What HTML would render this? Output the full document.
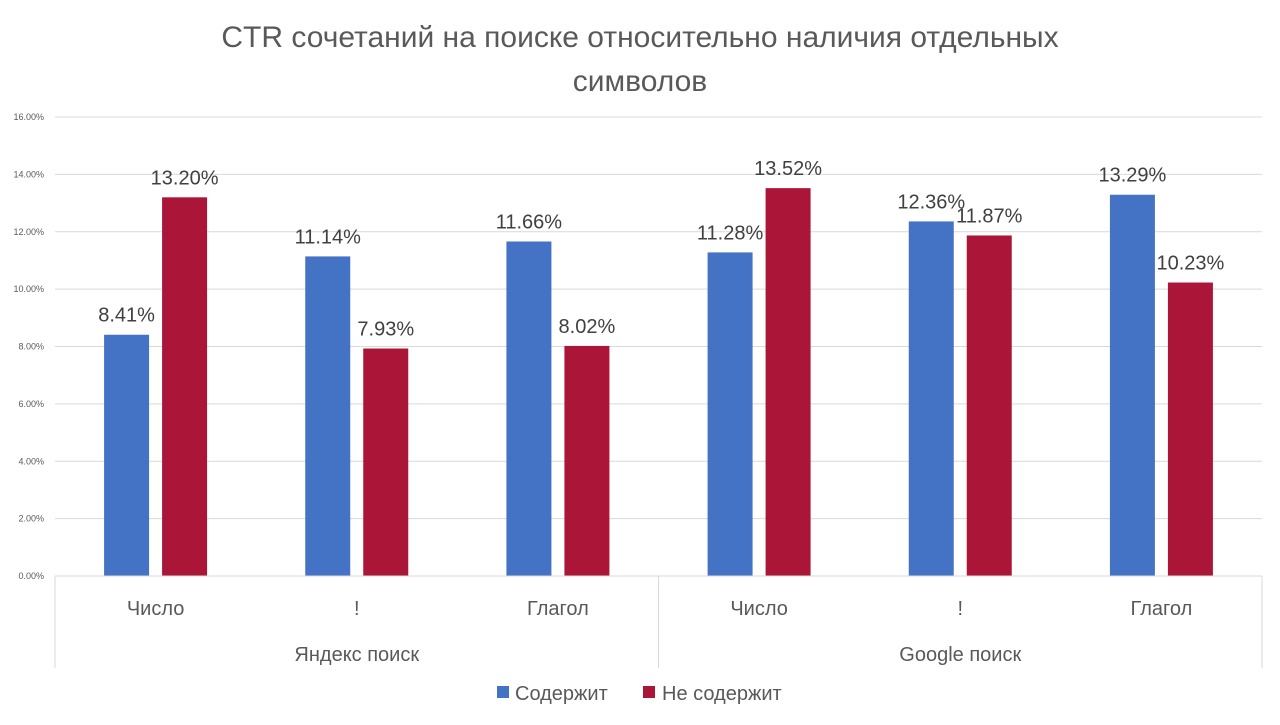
<!DOCTYPE html>
<html><head><meta charset="utf-8"><style>
body{margin:0;background:#fff;font-family:"Liberation Sans","DejaVu Sans",sans-serif;}
svg text{font-family:"Liberation Sans","DejaVu Sans",sans-serif;}
</style></head><body>
<svg id="chart" width="1280" height="720">
<text x="640" y="47" text-anchor="middle" font-size="30" fill="#595959">CTR сочетаний на поиске относительно наличия отдельных</text>
<text x="640" y="91" text-anchor="middle" font-size="30" fill="#595959">символов</text>
<g id="grid"></g><g id="bars"></g><g id="axis"></g>
<g>
<rect x="497" y="686" width="12" height="12" fill="#4472c4"/>
<text x="515" y="700" font-size="20" fill="#595959">Содержит</text>
<rect x="643" y="686" width="12" height="12" fill="#ab1538"/>
<text x="662" y="700" font-size="20" fill="#595959">Не содержит</text>
</g>
</svg>
<script>
const categories=["Число","!","Глагол","Число","!","Глагол"];
const groups=["Яндекс поиск","Google поиск"];
const containsValues=[8.41,11.14,11.66,11.28,12.36,13.29];
const notContainsValues=[13.20,7.93,8.02,13.52,11.87,10.23];
const yTicks=[0,2,4,6,8,10,12,14,16];
const NS="http://www.w3.org/2000/svg";
const L=55,R=1262,T=117,B=576,maxV=16;
const y=v=>B-(v/maxV)*(B-T);
const cw=(R-L)/categories.length;
const cx=i=>L+cw*(i+0.5);
function mk(tag,attrs,parent,txt){const e=document.createElementNS(NS,tag);for(const k in attrs)e.setAttribute(k,attrs[k]);if(txt!==undefined)e.textContent=txt;document.getElementById(parent).appendChild(e);return e;}
yTicks.forEach(t=>{
 const l=mk('line',{x1:L,x2:R,y1:y(t),y2:y(t),stroke:'#d9d9d9','stroke-width':1},'grid');
 
 
 const tx=mk('text',{x:44,y:y(t)+3,'text-anchor':'end','font-size':9,fill:'#595959'},'grid',t.toFixed(2)+'%');
 
 
});
categories.forEach((c,i)=>{
 const c0=cx(i);
 const b1=mk('rect',{x:c0-51.5,y:y(containsValues[i]),width:45,height:B-y(containsValues[i]),fill:'#4472c4'},'bars');
 
 
 const b2=mk('rect',{x:c0+6.5,y:y(notContainsValues[i]),width:45,height:B-y(notContainsValues[i]),fill:'#ab1538'},'bars');
 
 
 const l1=mk('text',{x:c0-29,y:y(containsValues[i])-13,'text-anchor':'middle','font-size':20,fill:'#404040'},'bars',containsValues[i].toFixed(2)+'%');
 
 
 const l2=mk('text',{x:c0+29,y:y(notContainsValues[i])-13,'text-anchor':'middle','font-size':20,fill:'#404040'},'bars',notContainsValues[i].toFixed(2)+'%');
 
 
 const cl=mk('text',{x:c0,y:615,'text-anchor':'middle','font-size':20,fill:'#595959'},'axis',c);
 
 
});
const base=mk('line',{x1:L,x2:R,y1:B,y2:B,stroke:'#d9d9d9'},'axis');


[L,L+cw*3,R].forEach(x=>{
 const v=mk('line',{x1:x,x2:x,y1:B,y2:668,stroke:'#d9d9d9'},'axis');
 
 
});
groups.forEach((g,i)=>{
 const gt=mk('text',{x:L+cw*(1.5+3*i),y:661,'text-anchor':'middle','font-size':20,fill:'#595959'},'axis',g);
 
 
});
</script>
</body></html>
